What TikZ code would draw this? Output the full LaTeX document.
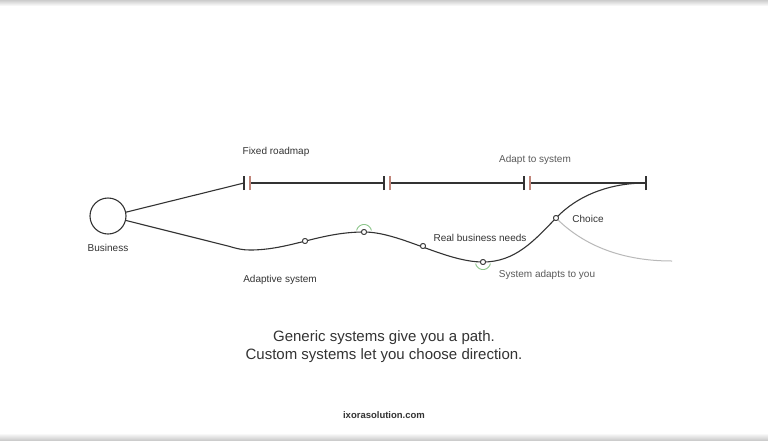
\documentclass[tikz,border=0pt]{standalone}
\usepackage{fontspec}
\setmainfont{Liberation Sans}
\definecolor{ink}{HTML}{333333}
\definecolor{soft}{HTML}{5A5A5A}
\definecolor{barred}{HTML}{C0857A}
\definecolor{ring}{HTML}{8CC58A}
\begin{document}
\begin{tikzpicture}[x=1pt,y=-1pt,
  lbl/.style={font=\fontsize{10}{12}\selectfont, text=ink, inner sep=0pt},
  lbllight/.style={font=\fontsize{10}{12}\selectfont, text=soft, inner sep=0pt},
  pathline/.style={draw=ink, line width=1.1pt},
  darkbar/.style={draw=ink, line width=1.1pt},
  redbar/.style={draw=barred, line width=1.1pt},
  dot/.style={circle, draw=ink, fill=white, line width=0.8pt, minimum size=5pt, inner sep=0pt},
  greenarc/.style={draw=ring, line width=0.9pt}]
\useasboundingbox (0,0) rectangle (768,440);
\fill[white] (0,0) rectangle (768,440);
\shade[top color=gray!40, bottom color=white] (0,0) rectangle (768,6);
\shade[top color=white, bottom color=gray!40] (0,433) rectangle (768,440);

% Business
\node[circle, draw=ink, line width=1.1pt, minimum size=36pt, inner sep=0pt] (biz) at (108,216) {};
\node[lbl] (bizl) at (108,248) {Business};

% fixed roadmap coordinates
\coordinate (b1d) at (244,183);
\coordinate (b1r) at (250,183);
\coordinate (b2d) at (384,183);
\coordinate (b2r) at (390,183);
\coordinate (b3d) at (524,183);
\coordinate (b3r) at (530,183);
\coordinate (bend) at (646,183);

\draw[pathline] (biz.12) -- (b1d);
\draw[pathline] (b1r) -- (b2d);
\draw[pathline] (b2r) -- (b3d);
\draw[pathline] (b3r) -- (bend);
\foreach \c in {b1d,b2d,b3d,bend}{
  \draw[darkbar] ([yshift=-7pt]\c) -- ([yshift=7pt]\c);
}
\foreach \c in {b1r,b2r,b3r}{
  \draw[redbar] ([yshift=-7pt]\c) -- ([yshift=7pt]\c);
}

\node[lbl] (fixed) at (276,152) {Fixed roadmap};
\node[lbllight] (adapt) at (535,160) {Adapt to system};

% adaptive path
\coordinate (low) at (250,250);
\node[dot] (p1) at (305,241) {};
\node[dot] (p2) at (364,232) {};
\node[dot] (p3) at (423,246) {};
\node[dot] (p4) at (483,262) {};
\node[dot] (p5) at (556,218) {};
\coordinate (branchend) at (672,261);

\draw[gray!55, line width=1pt] (p5.center) .. controls (588,250) and (630,261) .. (branchend);

\draw[pathline] (biz.-14) -- (228,246) .. controls (238,249) and (243,250) .. (low)
  .. controls (290,250) and (320,232) .. (p2.center)
  .. controls (400,232) and (445,262) .. (p4.center)
  .. controls (515,262) and (534,241) .. (p5.center)
  .. controls (578,195) and (610,183) .. (bend);

\draw[greenarc] plot[domain=12:168, samples=40, smooth] ({364+7.5*cos(\x)},{232-7.5*sin(\x)});
\draw[greenarc] plot[domain=12:168, samples=40, smooth] ({483+7.5*cos(\x)},{262+7.5*sin(\x)});

\foreach \n in {p1,p2,p3,p4,p5}{
  \node[dot] at (\n) {};
}

\node[lbl] (adsys) at (280,280) {Adaptive system};
\node[lbl] (needs) at (480,238) {Real business needs};
\node[lbllight] (sysad) at (547,275) {System adapts to you};
\node[lbl] (choice) at (588,219) {Choice};

\node[font=\fontsize{15}{18}\selectfont, text=ink, align=center, inner sep=0pt] (msg) at (384,347)
  {Generic systems give you a path.\\Custom systems let you choose direction.};
\node[font=\bfseries\fontsize{9.5}{11}\selectfont, text=ink, inner sep=0pt] (site) at (384,415) {ixorasolution.com};
\end{tikzpicture}
\end{document}
